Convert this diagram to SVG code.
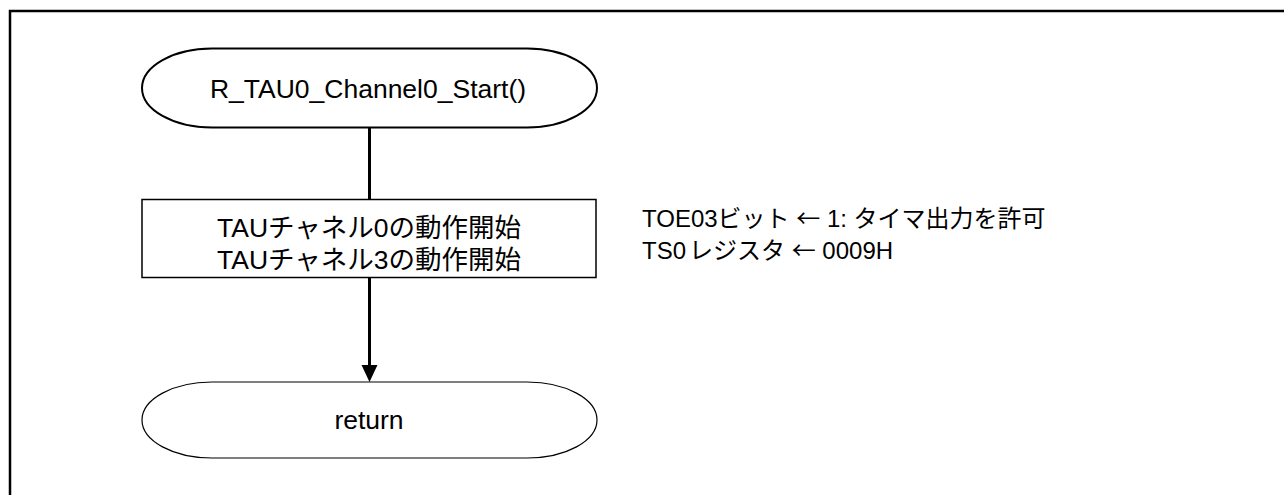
<svg xmlns="http://www.w3.org/2000/svg" width="1284" height="495" viewBox="0 0 1284 495">
<style>
text{font-family:"Liberation Sans","Noto Sans CJK JP",sans-serif;font-size:26.5px;fill:#000}
.c{text-anchor:middle}
.n{font-size:24px}
.a{font-family:"Noto Sans CJK JP",sans-serif}
.shape{fill:#fff;stroke:#000}
.conn{stroke:#000;stroke-width:3;fill:none}
</style>
<rect x="10" y="11" width="1290" height="500" fill="none" stroke="#000" stroke-width="2.5"/>
<g id="connectors">
<line class="conn" x1="369.5" y1="128" x2="369.5" y2="200"/>
<line class="conn" x1="369.5" y1="278" x2="369.5" y2="366"/>
<path d="M361.5,365 L377.5,365 L369.5,382 Z" fill="#000"/>
</g>
<g id="start">
<path class="shape" stroke-width="2" d="M212,48.5 H527 A70,39.5 0 0 1 527,127.5 H212 A70,39.5 0 0 1 212,48.5 Z"/>
<text class="c" x="368" y="98">R_TAU0_Channel0_Start()</text>
</g>
<g id="process">
<rect class="shape" stroke-width="1.5" x="142" y="199.5" width="454" height="78"/>
<text class="c" x="369" y="237">TAUチャネル0の動作開始</text>
<text class="c" x="369" y="269">TAUチャネル3の動作開始</text>
</g>
<g id="note">
<text class="n" x="642" y="227">TOE03ビット <tspan class="a">←</tspan> 1: タイマ出力を許可</text>
<text class="n" x="642" y="259">TS0<tspan dx="3">レジスタ</tspan> <tspan class="a">←</tspan> 0009H</text>
</g>
<g id="return">
<path class="shape" stroke-width="1.2" d="M212,382 H527 A70,38 0 0 1 527,458 H212 A70,38 0 0 1 212,382 Z"/>
<text class="c" x="369" y="429">return</text>
</g>
</svg>
